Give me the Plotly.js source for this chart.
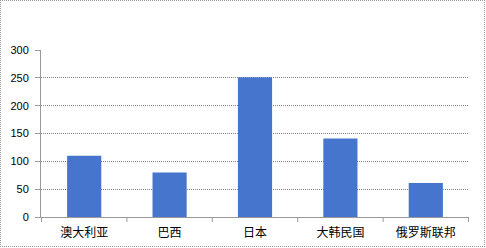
<!DOCTYPE html>
<html><head><meta charset="utf-8">
<script src="https://cdn.plot.ly/plotly-3.0.1.min.js"></script>
<style>html,body{margin:0;padding:0;background:#fff}#c{width:486px;height:248px}
#f{position:absolute;left:0;top:0;width:483px;height:245px;border:1px dotted #999;pointer-events:none}</style>
</head><body><div id="c"></div><div id="f"></div>
<script>
const categories = ["澳大利亚", "巴西", "日本", "大韩民国", "俄罗斯联邦"];
const values = [110, 80, 251, 141, 61];
const yTicks = [0, 50, 100, 150, 200, 250, 300];

Plotly.newPlot('c', [{
  type: 'bar', x: categories, y: values, width: 0.4,
  marker: {color: '#4575cc', line: {width: 0}}
}], {
  width: 486, height: 248,
  margin: {l: 41, r: 17, t: 50, b: 31},
  paper_bgcolor: '#fff', plot_bgcolor: '#fff',
  showlegend: false,
  xaxis: {
    showgrid: false, showline: true, linecolor: '#999', linewidth: 1,
    ticks: '', ticklabelstandoff: 5,
    tickfont: {family: 'Noto Sans CJK SC', size: 12, color: '#000'},
    fixedrange: true
  },
  yaxis: {
    range: [0, 300], tickvals: yTicks, ticktext: yTicks.map(String),
    showgrid: true, gridcolor: '#888', griddash: '1px,1px', gridwidth: 1,
    showline: true, linecolor: '#999', ticks: 'outside', ticklen: 5, tickcolor: '#999',
    ticklabelstandoff: 4, zeroline: false,
    tickfont: {family: 'Liberation Sans', size: 11, color: '#000'}, fixedrange: true
  },
  shapes: [-0.5, 0.5, 1.5, 2.5, 3.5, 4.5].map(v => ({
    type: 'line', xref: 'x', yref: 'paper', x0: v, x1: v, y0: 0, y1: -0.03,
    line: {color: '#999', width: 1}
  }))
}, {displayModeBar: false, staticPlot: true});
</script></body></html>
